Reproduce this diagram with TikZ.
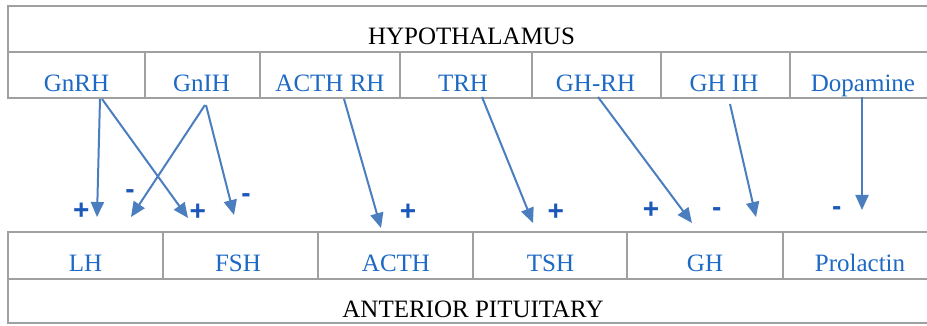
\documentclass[tikz,border=0pt]{standalone}
\usepackage{fontspec}
\setmainfont{Liberation Serif}
\newfontfamily\signfont{Liberation Sans}
\usetikzlibrary{arrows.meta}
\definecolor{gridgray}{RGB}{160,160,160}
\definecolor{hblue}{RGB}{30,105,196}
\definecolor{ablue}{RGB}{74,126,190}
\definecolor{sblue}{RGB}{28,88,186}
\tikzset{
  grid/.style={draw=gridgray, line width=1.4pt},
  head/.style={anchor=base, inner sep=0pt, font=\fontsize{25}{30}\selectfont, text=black},
  hormone/.style={anchor=base, inner sep=0pt, font=\fontsize{25}{30}\selectfont, text=hblue},
  sign/.style={anchor=base, inner sep=0pt, font=\signfont\bfseries\fontsize{28}{32}\selectfont, text=sblue},
  link/.style={draw=ablue, line width=2pt, -{Triangle[length=15pt,width=13pt]}},
}
\begin{document}
\begin{tikzpicture}[x=1pt, y=-1pt]
\useasboundingbox (0,0) rectangle (927,326);
\fill[white] (0,0) rectangle (927,326);

% hypothalamus table
\draw[grid] (927,6) -- (8,6) -- (8,98) -- (927,98);
\draw[grid] (8,52) -- (927,52);
\foreach \x in {145,260,400,532,661,790} \draw[grid] (\x,52) -- (\x,98);
\node[head] (hypo) at (471.5,45) {HYPOTHALAMUS};
\node[hormone] (gnrh) at (76.5,92) {GnRH};
\node[hormone] (gnih) at (201.5,92) {GnIH};
\node[hormone] (acthrh) at (330,92) {ACTH RH};
\node[hormone] (trh) at (463,92) {TRH};
\node[hormone] (ghrh) at (595.5,92) {GH-RH};
\node[hormone] (ghih) at (724,92) {GH IH};
\node[hormone] (dopa) at (863,92) {Dopamine};

% anterior pituitary table
\draw[grid] (927,232) -- (8,232) -- (8,323) -- (927,323);
\draw[grid] (8,279) -- (927,279);
\foreach \x in {163,318,473,627,783} \draw[grid] (\x,232) -- (\x,279);
\node[hormone] (lh) at (85.5,271) {LH};
\node[hormone] (fsh) at (238,271) {FSH};
\node[hormone] (acth) at (396,271) {ACTH};
\node[hormone] (tsh) at (550.5,271) {TSH};
\node[hormone] (gh) at (705,271) {GH};
\node[hormone] (prl) at (860,271) {Prolactin};
\node[head] (ant) at (473,317) {ANTERIOR PITUITARY};

% arrow start points below the releasing/inhibiting hormones
\coordinate (gnrh-a) at (100,99);
\coordinate (gnrh-b) at (102,99);
\coordinate (gnih-a) at (205,105);
\coordinate (gnih-b) at (206,105);
\coordinate (acthrh-a) at (344,99);
\coordinate (trh-a) at (482,97);
\coordinate (ghrh-a) at (598,97);
\coordinate (ghih-a) at (730,104);
\coordinate (dopa-a) at (862,97);
% arrow tips above the pituitary hormones
\coordinate (lh-p) at (97,217);
\coordinate (fsh-p) at (188,218);
\coordinate (lh-m) at (131,217);
\coordinate (fsh-m) at (234,215);
\coordinate (acth-p) at (381,228);
\coordinate (tsh-p) at (533,223);
\coordinate (gh-p) at (692,223);
\coordinate (gh-m) at (756,217);
\coordinate (prl-m) at (862,210);

\draw[link] (gnrh-a) -- (lh-p);
\draw[link] (gnrh-b) -- (fsh-p);
\draw[link] (gnih-a) -- (lh-m);
\draw[link] (gnih-b) -- (fsh-m);
\draw[link] (acthrh-a) -- (acth-p);
\draw[link] (trh-a) -- (tsh-p);
\draw[link] (ghrh-a) -- (gh-p);
\draw[link] (ghih-a) -- (gh-m);
\draw[link] (dopa-a) -- (prl-m);

% stimulation / inhibition signs
\node[sign] (s1) at (81.3,219.8) {+};
\node[sign] (s2) at (130,198.1) {-};
\node[sign] (s3) at (197.7,220.6) {+};
\node[sign] (s4) at (246,202.6) {-};
\node[sign] (s5) at (408,220.8) {+};
\node[sign] (s6) at (555.7,220.8) {+};
\node[sign] (s7) at (651,218.8) {+};
\node[sign] (s8) at (716.7,216.6) {-};
\node[sign] (s9) at (836.7,215.1) {-};
\end{tikzpicture}
\end{document}
